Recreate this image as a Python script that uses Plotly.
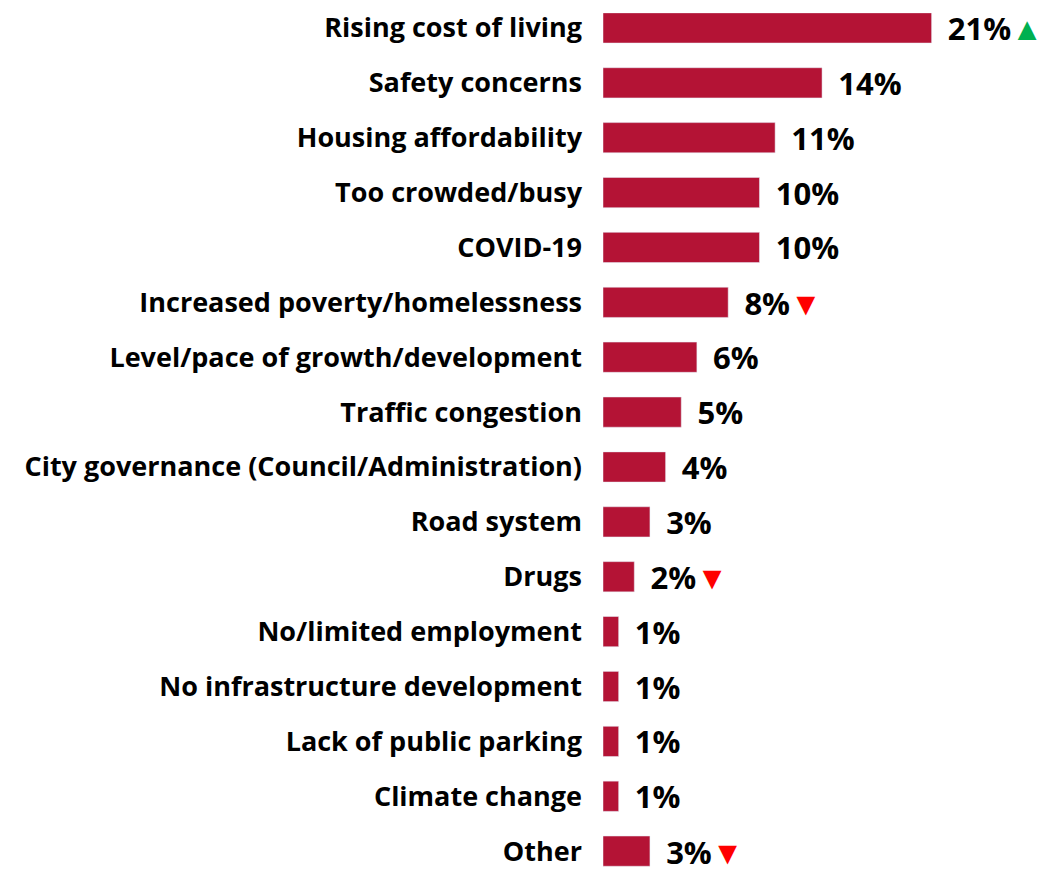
import plotly.graph_objects as go

categories = [
    "Rising cost of living",
    "Safety concerns",
    "Housing affordability",
    "Too crowded/busy",
    "COVID-19",
    "Increased poverty/homelessness",
    "Level/pace of growth/development",
    "Traffic congestion",
    "City governance (Council/Administration)",
    "Road system",
    "Drugs",
    "No/limited employment",
    "No infrastructure development",
    "Lack of public parking",
    "Climate change",
    "Other",
]
values = [21, 14, 11, 10, 10, 8, 6, 5, 4, 3, 2, 1, 1, 1, 1, 3]
# change vs previous wave: "up", "down" or ""
changes = ["up", "", "", "", "", "down", "", "", "", "", "down", "", "", "", "", "down"]

bar_color = "#B41335"
up_color = "#00B050"
down_color = "#FF0000"

labels = []
for v, c in zip(values, changes):
    t = "\u00a0\u2009" + str(v) + "%"
    if c == "up":
        t += "<span style='color:%s;font-size:32px'>\u25b2</span>" % up_color
    elif c == "down":
        t += "<span style='color:%s;font-size:32px'>\u25bc</span>" % down_color
    labels.append(t)

fig = go.Figure(go.Bar(
    x=values,
    y=categories,
    orientation="h",
    marker=dict(color=bar_color),
    width=0.55,
    text=labels,
    textposition="outside",
    constraintext="none",
    cliponaxis=False,
    textfont=dict(family="Open Sans", size=31, color="black", weight="bold"),
))

# page body adds an 8px margin, so the figure is a little smaller than the window
fig.update_layout(
    width=1038,
    height=864,
    margin=dict(l=595, r=8, t=0, b=0),
    plot_bgcolor="white",
    paper_bgcolor="white",
    showlegend=False,
    font=dict(family="Open Sans", color="black"),
)
fig.update_xaxes(visible=False, range=[0, 27.8])
fig.update_yaxes(
    range=[15.38, -0.272],
    showgrid=False,
    showline=False,
    ticks="",
    ticklabelstandoff=20,
    tickfont=dict(family="Open Sans", size=27, color="black", weight="bold"),
)

fig.write_html("out.html")
